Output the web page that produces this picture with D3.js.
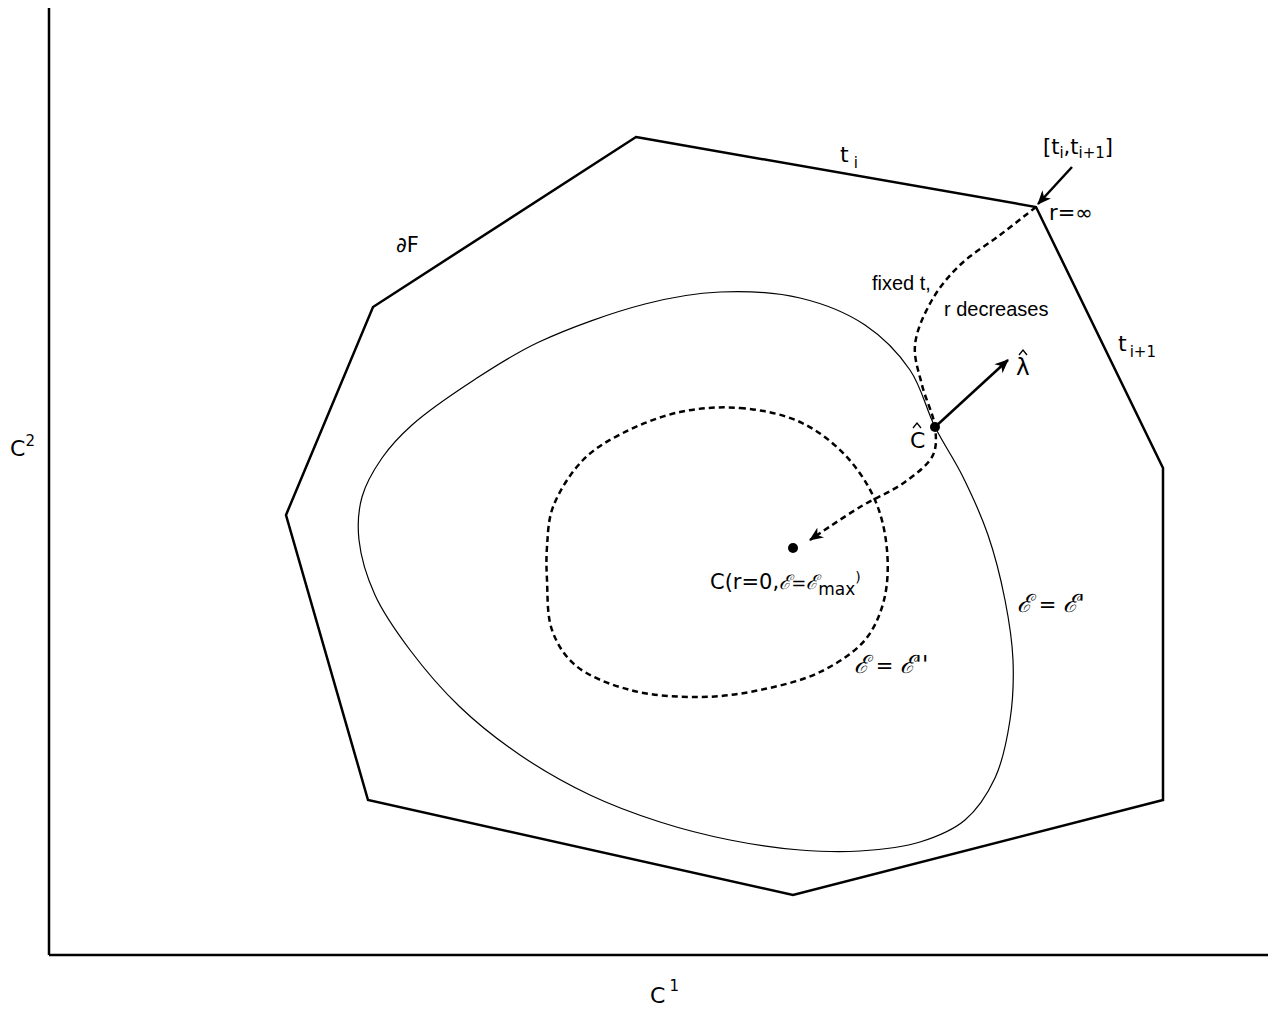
<!DOCTYPE html>
<html>
<head>
<meta charset="utf-8">
<script src="https://cdn.jsdelivr.net/npm/d3@7"></script>
<style>
  body { margin: 0; background: white; }
  text { font-family: "DejaVu Sans", sans-serif; fill: black; }
</style>
</head>
<body>
<svg id="chart" width="1277" height="1013"></svg>
<script>
// feasible region boundary dF (chart units, origin at axes corner)
var boundary = [[587,818],[987,748],[1114,487],[1114,155],[744,60],[319,155],[237,440],[324,648]];

// level set E = E'
var contourOuter = [[671,663],[751,657],[816,630],[861,585],[886,528],[913,480],[939,420],[956,355],
  [964,295],[961,235],[946,177],[916,135],[871,113],[811,104],[751,105],[681,115],[611,133],
  [541,160],[471,200],[411,248],[361,305],[326,360],[310,415],[313,458],[333,497],[363,530],
  [425,575],[490,613],[596,651]];

// level set E = E''
var contourInner = [[631,543],[691,547],[751,533],[796,500],[826,455],[838,405],[835,355],[816,315],
  [771,283],[711,265],[651,258],[581,265],[526,290],[503,325],[498,375],[498,408],[504,448],
  [534,495],[574,522]];

// path at fixed t, r decreasing
var rPath = [[987,748],[951,720],[911,690],[883,655],[866,610],[873,570],[886,528],[884,500],
  [856,473],[811,448],[761,415]];

var arrowT = [[1023,788],[989,751]];
var arrowLambda = [[886,528],[959,595]];
var points = [[886,528],[744,407]];

var svg = d3.select("#chart");
var x = d3.scaleLinear().domain([0, 1219]).range([49, 1268]);
var y = d3.scaleLinear().domain([0, 947]).range([955, 8]);

var line = d3.line().x(d => x(d[0])).y(d => y(d[1]));
var closedSmooth = d3.line().x(d => x(d[0])).y(d => y(d[1])).curve(d3.curveCatmullRomClosed.alpha(0.5));
var smooth = d3.line().x(d => x(d[0])).y(d => y(d[1])).curve(d3.curveCatmullRom.alpha(0.5));

// arrow head marker
svg.append("defs").append("marker")
    .attr("id", "head")
    .attr("viewBox", "0 -6 14 12")
    .attr("refX", 13).attr("refY", 0)
    .attr("markerWidth", 14).attr("markerHeight", 12)
    .attr("markerUnits", "userSpaceOnUse")
    .attr("orient", "auto")
  .append("path")
    .attr("d", "M0,-6 L14,0 L0,6 L4,0 Z")
    .attr("fill", "black");

// axes (just two lines, no ticks)
svg.append("line").attr("x1", x(0)).attr("y1", y(0)).attr("x2", x(0)).attr("y2", y(947))
    .attr("stroke", "black").attr("stroke-width", 2.5);
svg.append("line").attr("x1", x(0)).attr("y1", y(0)).attr("x2", x(1219)).attr("y2", y(0))
    .attr("stroke", "black").attr("stroke-width", 2.5);

// polygon boundary
svg.append("path")
    .attr("d", line(boundary) + "Z")
    .attr("fill", "none").attr("stroke", "black").attr("stroke-width", 2.5)
    .attr("stroke-linejoin", "miter");

// contours
svg.append("path")
    .attr("d", closedSmooth(contourOuter))
    .attr("fill", "none").attr("stroke", "black").attr("stroke-width", 1.2);

svg.append("path")
    .attr("d", closedSmooth(contourInner))
    .attr("fill", "none").attr("stroke", "black").attr("stroke-width", 2.5)
    .attr("stroke-dasharray", "6,4");

// r path
svg.append("path")
    .attr("d", smooth(rPath))
    .attr("fill", "none").attr("stroke", "black").attr("stroke-width", 2.5)
    .attr("stroke-dasharray", "6,4")
    .attr("marker-end", "url(#head)");

// arrows
[arrowT, arrowLambda].forEach(function(a) {
    svg.append("path")
        .attr("d", line(a))
        .attr("fill", "none").attr("stroke", "black").attr("stroke-width", 2.5)
        .attr("marker-end", "url(#head)");
});

// dots
svg.selectAll("circle.pt").data(points).enter().append("circle")
    .attr("class", "pt")
    .attr("cx", d => x(d[0])).attr("cy", d => y(d[1])).attr("r", 5)
    .attr("fill", "black");

// labels
function label(ux, uy, size, family) {
    var t = svg.append("text").attr("x", x(ux)).attr("y", y(uy)).attr("font-size", size);
    if (family) t.style("font-family", family);
    return t;
}
function sub(t, s, dy, size) {
    t.append("tspan").attr("dy", dy).attr("font-size", size).text(s);
}
function script(t, s, size) {
    t.append("tspan").style("font-family", "DejaVu Serif").attr("font-style", "italic")
        .attr("font-size", size).text(s);
}
// letter with a small drawn hat above it
function hatted(ux, uy, s, size, hx) {
    label(ux, uy, size).text(s);
    var cx = x(ux) + hx, top = y(uy) - 25;
    svg.append("path")
        .attr("d", "M" + (cx - 4) + "," + (top + 5) + " L" + cx + "," + top + " L" + (cx + 4) + "," + (top + 5))
        .attr("fill", "none").attr("stroke", "black").attr("stroke-width", 1.3);
}

var t;
t = label(-39, 499, 22); t.text("C"); sub(t, "2", -10, 15);
t = label(601, -48, 22); t.text("C"); t.append("tspan").attr("dx", 4).attr("dy", -12).attr("font-size", 15).text("1");
label(347, 703, 21).text("\u2202F");
t = label(791, 793, 22); t.text("t"); t.append("tspan").attr("dx", 5).attr("dy", 6).attr("font-size", 15).text("i");

t = label(994, 801, 21); t.text("[t");
sub(t, "i", 4, 15); t.append("tspan").attr("dy", -4).text(",t");
sub(t, "i+1", 4, 15); t.append("tspan").attr("dy", -4).text("]");

label(1000, 735, 21).text("r=\u221E");
label(823, 665, 20, "Liberation Sans").text("fixed t,");
label(895, 639, 20, "Liberation Sans").text("r decreases");

t = label(1069, 604, 22); t.text("t");
t.append("tspan").attr("dx", 3).attr("dy", 6).attr("font-size", 15).text("i+1");

hatted(967, 580, "\u03BB", 23, 7);
hatted(861, 507, "C", 22, 7);

t = label(661, 366, 21); t.text("C(r=0,");
script(t, "\u2130", 20);
t.append("tspan").attr("font-size", 18).text("=");
script(t, "\u2130", 20);
sub(t, "max", 6, 17);
t.append("tspan").attr("dy", -13).attr("font-size", 14).text(")");

t = label(968, 343, 21);
script(t, "\u2130", 25);
t.append("tspan").attr("font-size", 21).text(" = ");
script(t, "\u2130'", 25);

t = label(805, 282, 21);
script(t, "\u2130", 25);
t.append("tspan").attr("font-size", 21).text(" = ");
script(t, "\u2130''", 25);
</script>
</body>
</html>
